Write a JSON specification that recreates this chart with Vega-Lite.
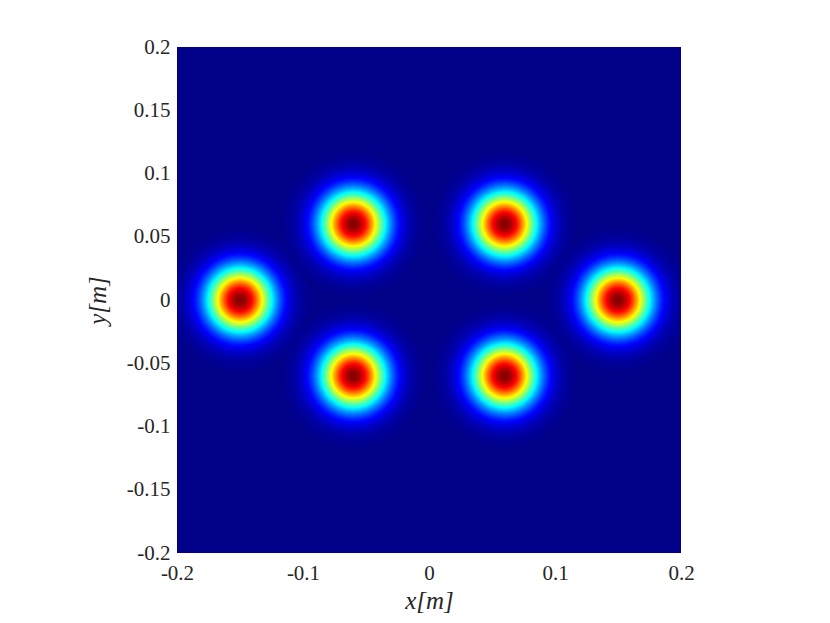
{
  "$schema": "https://vega.github.io/schema/vega-lite/v6.json",
  "width": 504,
  "height": 506,
  "autosize": {"type": "none"},
  "padding": {"left": 177, "top": 47, "right": 149, "bottom": 70},
  "background": "white",
  "config": {
    "view": {"fill": "#000088", "stroke": null},
    "axis": {
      "labelFont": "Liberation Serif",
      "labelFontSize": 21,
      "labelColor": "#262626",
      "labelFlush": false,
      "titleFont": "Liberation Serif",
      "titleFontSize": 25,
      "titleFontStyle": "italic",
      "titleFontWeight": "normal",
      "titleColor": "#262626",
      "ticks": false,
      "tickSize": 0,
      "domain": false,
      "grid": false
    }
  },
  "datasets": {
    "levels": [
      {"k": 1, "lev": [0.01,0.02,0.03,0.04,0.05,0.06,0.07,0.08,0.09,0.1,0.11,0.12,0.13,0.14,0.15,0.16,0.17,0.18,0.19,0.2,0.21,0.22,0.23,0.24,0.25,0.26,0.27,0.28,0.29,0.3,0.31,0.32,0.33,0.34,0.35,0.36,0.37,0.38,0.39,0.4,0.41,0.42,0.43,0.44,0.45,0.46,0.47,0.48,0.49,0.5,0.51,0.52,0.53,0.54,0.55,0.56,0.57,0.58,0.59,0.6,0.61,0.62,0.63,0.64,0.65,0.66,0.67,0.68,0.69,0.7,0.71,0.72,0.73,0.74,0.75,0.76,0.77,0.78,0.79,0.8,0.81,0.82,0.83,0.84,0.85,0.86,0.87,0.88,0.89,0.9,0.91,0.92,0.93,0.94,0.95,0.96,0.97,0.98,0.99]}
    ]
  },
  "data": {
    "values": [
      {"k": 1, "cx": -0.15, "cy": 0},
      {"k": 1, "cx": 0.15, "cy": 0},
      {"k": 1, "cx": -0.06, "cy": 0.06},
      {"k": 1, "cx": 0.06, "cy": 0.06},
      {"k": 1, "cx": -0.06, "cy": -0.06},
      {"k": 1, "cx": 0.06, "cy": -0.06}
    ]
  },
  "transform": [
    {"lookup": "k", "from": {"data": {"name": "levels"}, "key": "k", "fields": ["lev"]}},
    {"flatten": ["lev"]}
  ],
  "mark": {"type": "point", "shape": "circle", "filled": true, "opacity": 1, "strokeWidth": 0, "clip": true},
  "encoding": {
    "x": {
      "field": "cx", "type": "quantitative",
      "scale": {"domain": [-0.2, 0.2], "nice": false, "zero": false},
      "axis": {"values": [-0.2, -0.1, 0, 0.1, 0.2], "labelExpr": "'' + datum.value", "title": "x[m]", "labelPadding": 9, "titlePadding": 5}
    },
    "y": {
      "field": "cy", "type": "quantitative",
      "scale": {"domain": [-0.2, 0.2], "nice": false, "zero": false},
      "axis": {"values": [-0.2, -0.15, -0.1, -0.05, 0, 0.05, 0.1, 0.15, 0.2], "labelExpr": "'' + datum.value", "title": "y[m]", "labelPadding": 7, "titlePadding": 16}
    },
    "size": {
      "field": "lev", "type": "quantitative",
      "scale": {"type": "log", "domain": [0.01, 1], "range": [19490, 0]},
      "legend": null
    },
    "color": {
      "field": "lev", "type": "quantitative",
      "scale": {"domain": [0, 0.125, 0.375, 0.625, 0.875, 1], "range": ["#000088", "#0000ff", "#00ffff", "#ffff00", "#ff0000", "#800000"], "interpolate": "rgb"},
      "legend": null
    },
    "order": {"field": "lev", "type": "quantitative", "sort": "ascending"}
  }
}
